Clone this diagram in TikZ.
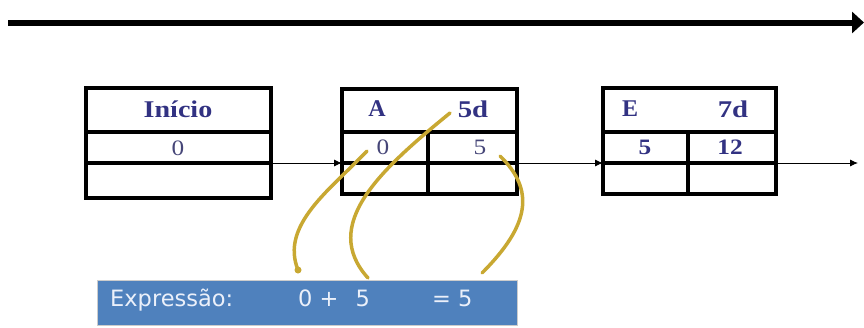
\documentclass[tikz,border=0pt]{standalone}
\usepackage{fontspec}
\setmainfont{Liberation Serif}
\newfontfamily\exprfont{DejaVu Sans}
\usetikzlibrary{arrows.meta}
\definecolor{navy}{RGB}{50,50,130}
\definecolor{numcol}{RGB}{70,70,120}
\definecolor{gold}{RGB}{200,168,50}
\definecolor{exprblue}{RGB}{79,129,189}
\definecolor{exprtext}{RGB}{235,240,250}
\tikzset{
  cellbox/.style={draw=black, line width=3.2pt},
  hdr/.style={text=navy, font=\fontsize{24}{26}\selectfont\bfseries, inner sep=0pt},
  num/.style={text=numcol, font=\fontsize{22}{24}\selectfont, inner sep=0pt},
  numb/.style={text=navy, font=\fontsize{22}{24}\selectfont\bfseries, inner sep=0pt},
  link/.style={draw=black, line width=0.9pt, -{Latex[length=8pt,width=7pt]}},
  goldline/.style={draw=gold, line width=3.5pt, line cap=round},
  exprtxt/.style={text=exprtext, font=\exprfont\fontsize{22.5}{24}\selectfont, inner sep=0pt, anchor=base west}
}
\newcommand{\widetxt}[2][1.15]{\scalebox{#1}[1]{#2}}
\begin{document}
\begin{tikzpicture}[x=1pt,y=-1pt]
\useasboundingbox (0,0) rectangle (864,327);
% top arrow
\coordinate (ta) at (8,22.5);
\coordinate (tb) at (864,22.5);
\draw[line width=6pt, -{Triangle[length=12pt,width=21pt]}] (ta) -- (tb);

% Box Inicio
\draw[cellbox] (86,88) rectangle (271,198);
\draw[cellbox] (86,132) -- (271,132);
\draw[cellbox] (86,163) -- (271,163);
\node[hdr] (i1) at (178,109) {\widetxt[1.17]{Início}};
\node[num] (i2) at (178,148) {\widetxt{0}};
\coordinate (iout) at (271,163);

% Box A
\draw[cellbox] (342,89) rectangle (517,194);
\draw[cellbox] (342,132) -- (517,132);
\draw[cellbox] (342,163) -- (517,163);
\draw[cellbox] (428,132) -- (428,194);
\node[hdr] (a1) at (377,109) {\widetxt[1.0]{A}};
\node[hdr] (a2) at (473,109) {\widetxt[1.2]{5d}};
\node[num] (a3) at (383,147) {\widetxt{0}};
\node[num] (a4) at (480,147) {\widetxt{5}};
\coordinate (ain) at (342,163);
\coordinate (aout) at (517,163);

% Box E
\draw[cellbox] (603,88) rectangle (776,194);
\draw[cellbox] (603,132) -- (776,132);
\draw[cellbox] (603,163) -- (776,163);
\draw[cellbox] (688,132) -- (688,194);
\node[hdr] (e1) at (630,109) {\widetxt[1.0]{E}};
\node[hdr] (e2) at (733,109) {\widetxt[1.2]{7d}};
\node[numb] (e3) at (645,147) {\widetxt{5}};
\node[numb] (e4) at (730,147) {\widetxt{12}};
\coordinate (ein) at (603,163);
\coordinate (eout) at (776,163);
\coordinate (eend) at (858,163);

% links
\draw[link] (iout) -- (ain);
\draw[link] (aout) -- (ein);
\draw[link] (eout) -- (eend);

% expression box
\node[draw=gray!40, line width=1pt, fill=exprblue, minimum width=420pt, minimum height=45pt, inner sep=0pt, anchor=north west] (expr) at (97,280) {};
\node[exprtxt] (ex1) at (110,306) {Expressão:};
\node[exprtxt] (ex2) at (298,306) {0 + \hspace{10pt}5};
\node[exprtxt] (ex3) at (432,306) {= 5};

% gold curves
\coordinate (c1s) at (367,151);
\coordinate (c1e) at (298,270);
\coordinate (c2s) at (450,113);
\coordinate (c2e) at (368,278);
\coordinate (c3s) at (500,156);
\coordinate (c3e) at (482,273);
\draw[goldline] (c1s) .. controls (330,190) and (280,225) .. (c1e);
\fill[gold] (c1e) circle (3.5pt);
\draw[goldline] (c2s) .. controls (380,170) and (320,225) .. (c2e);
\draw[goldline] (c3s) .. controls (535,190) and (530,225) .. (c3e);
\end{tikzpicture}
\end{document}
